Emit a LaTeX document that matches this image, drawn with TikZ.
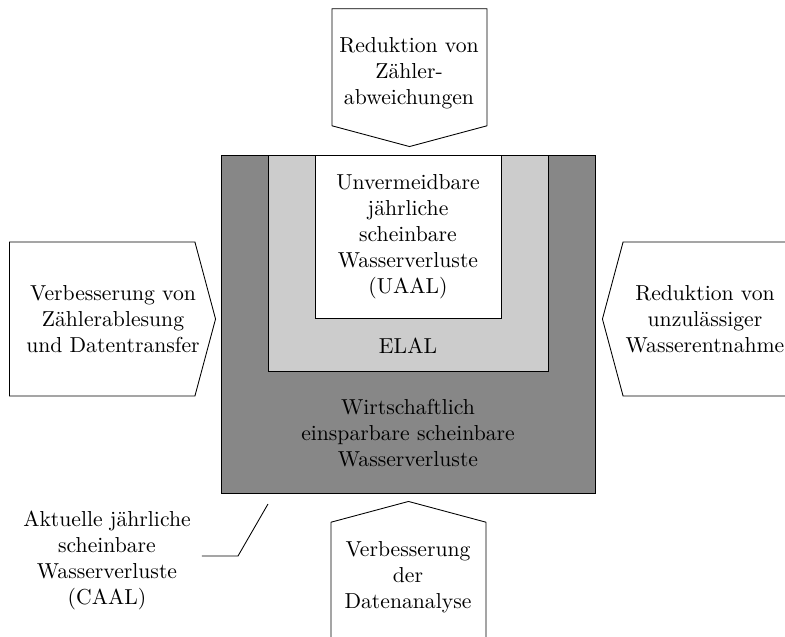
\documentclass[tikz,border=0pt]{standalone}
\usepackage{xcolor}
\usepackage{tikz}
\usetikzlibrary{shapes,arrows,positioning,calc}
\definecolor{wlgray}{HTML}{878787}
\definecolor{wllight}{HTML}{CCCCCC}
\tikzset{
    wlbox/.style={rectangle, draw=black, fill=#1,
        inner sep=0pt, align=center},
    wlsignal/.style={signal, draw=black, fill=white,
        signal to=#1, signal pointer angle=150, inner sep=0pt},
    wltext/.style={align=center, inner sep=2pt},
}

\begin{document}
\begin{tikzpicture}[x=0.4615pt, y=-0.4615pt]

    \clip (0,0) rectangle (785,637);

    % ── Loss boxes ─────────────────────────────────────────────────────────
    \node[wlbox=wlgray, minimum width=172.6pt, minimum height=156pt]
        (caal) at (408,324) {};
    \node[wlbox=wllight, minimum width=129.2pt, minimum height=100.1pt,
          anchor=north] (elal) at (caal.north) {};
    \node[wlbox=white, minimum width=85.8pt, minimum height=75.2pt,
          anchor=north] (uaal) at (elal.north)
        {Unvermeidbare\\jährliche\\scheinbare\\Wasserverluste\\(UAAL)};

    % ── Box labels ─────────────────────────────────────────────────────────
    \node[wltext] (elaltxt) at ($(uaal.south)!0.5!(elal.south)$) {ELAL};
    \node[wltext] (eealtxt) at ($(elal.south)!0.5!(caal.south)$)
        {Wirtschaftlich\\einsparbare scheinbare\\Wasserverluste};

    % ── Measures ───────────────────────────────────────────────────────────
    \node[wlsignal=south, minimum width=71.5pt, minimum height=54pt,
          anchor=south] (zaehler) at (409.5,147) {};
    \node[wlsignal=east, minimum width=95.1pt, minimum height=71.1pt,
          anchor=east] (ablesung) at (216,319) {};
    \node[wlsignal=west, minimum width=95.1pt, minimum height=71.1pt,
          anchor=west] (entnahme) at (602,319) {};
    \node[wlsignal=north, minimum width=71.5pt, minimum height=54pt,
          anchor=north] (analyse) at (408.5,501) {};

    \node[wltext] (zaehlertxt) at (409,73)
        {Reduktion von\\Zähler-\\abweichungen};
    \node[wltext] (ablesungtxt) at (113,319)
        {Verbesserung von\\Zählerablesung\\und Datentransfer};
    \node[wltext] (entnahmetxt) at (705,319)
        {Reduktion von\\unzulässiger\\Wasserentnahme};
    \node[wltext] (analysetxt) at (408,577)
        {Verbesserung\\der\\Datenanalyse};

    % ── CAAL label ─────────────────────────────────────────────────────────
    \node[wltext] (caaltxt) at (107,560)
        {Aktuelle jährliche\\scheinbare\\Wasserverluste\\(CAAL)};
    \coordinate (knick) at (238,556);
    \coordinate (spitze) at (268,504);
    \draw ([xshift=3pt]caaltxt.east |- knick) -- (knick) -- (spitze);

\end{tikzpicture}
\end{document}
